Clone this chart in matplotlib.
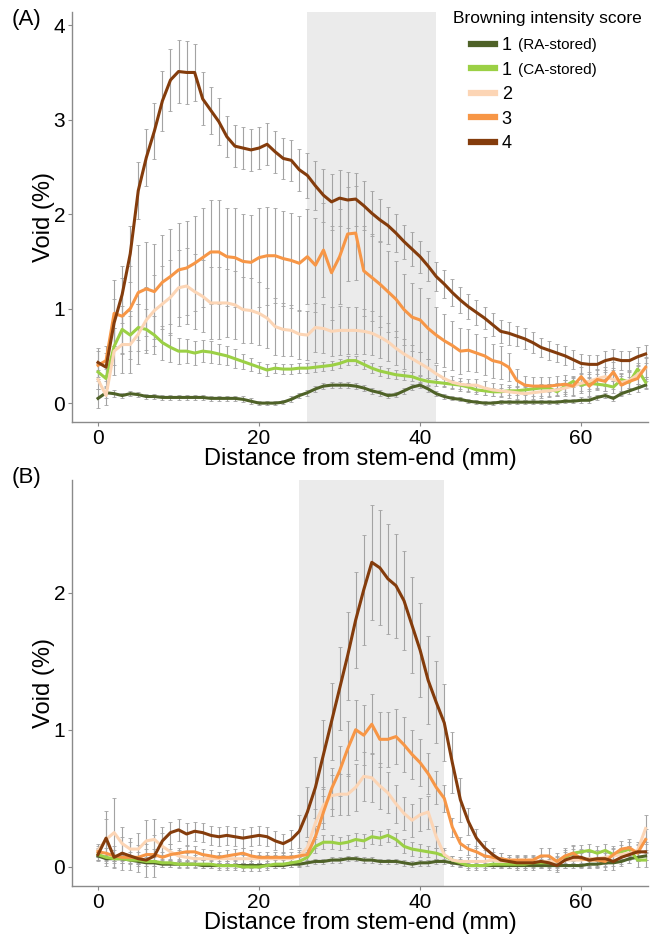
import matplotlib
matplotlib.use("Agg")
import matplotlib.pyplot as plt
import numpy as np

plt.rcParams['font.family'] = ['Liberation Sans', 'DejaVu Sans']

distance = list(range(0, 69))

labels = ["1", "1", "2", "3", "4"]
label_notes = ["(RA-stored)", "(CA-stored)", "", "", ""]
colors = ["#4F6228", "#9BD045", "#FCD5B5", "#F79646", "#843C0C"]

# ---------------- Panel A ----------------
a_ra = [0.05, 0.11, 0.10, 0.08, 0.10, 0.09, 0.07, 0.07, 0.06, 0.06, 0.06, 0.06, 0.06, 0.06, 0.05, 0.05, 0.05, 0.05, 0.04, 0.02,
        0.00, 0.00, 0.00, 0.01, 0.04, 0.08, 0.11, 0.15, 0.18, 0.19, 0.19, 0.19, 0.18, 0.16, 0.13, 0.11, 0.08, 0.09, 0.13, 0.17,
        0.19, 0.15, 0.10, 0.07, 0.05, 0.04, 0.02, 0.01, 0.00, 0.00, 0.01, 0.01, 0.01, 0.01, 0.01, 0.01, 0.01, 0.01, 0.02, 0.02,
        0.03, 0.03, 0.06, 0.08, 0.05, 0.10, 0.13, 0.16, 0.19]
a_ca = [0.33, 0.26, 0.60, 0.78, 0.72, 0.80, 0.78, 0.72, 0.64, 0.59, 0.55, 0.55, 0.53, 0.55, 0.54, 0.52, 0.50, 0.47, 0.44, 0.41,
        0.38, 0.35, 0.37, 0.36, 0.36, 0.37, 0.37, 0.38, 0.39, 0.40, 0.42, 0.45, 0.45, 0.41, 0.37, 0.34, 0.32, 0.30, 0.29, 0.28,
        0.25, 0.23, 0.22, 0.21, 0.20, 0.19, 0.17, 0.14, 0.13, 0.12, 0.12, 0.13, 0.13, 0.14, 0.15, 0.16, 0.16, 0.12, 0.18, 0.23,
        0.19, 0.21, 0.20, 0.19, 0.17, 0.25, 0.22, 0.36, 0.22]
a_s2 = [0.25, 0.08, 0.55, 0.62, 0.62, 0.73, 0.88, 0.98, 1.05, 1.12, 1.22, 1.24, 1.18, 1.13, 1.06, 1.06, 1.06, 1.04, 0.99, 0.98,
        0.95, 0.90, 0.81, 0.78, 0.77, 0.73, 0.72, 0.80, 0.79, 0.76, 0.77, 0.77, 0.77, 0.76, 0.74, 0.70, 0.65, 0.58, 0.52, 0.47,
        0.42, 0.37, 0.31, 0.26, 0.22, 0.20, 0.19, 0.19, 0.16, 0.14, 0.13, 0.12, 0.11, 0.10, 0.11, 0.12, 0.13, 0.14, 0.16, 0.18,
        0.21, 0.23, 0.26, 0.28, 0.25, 0.22, 0.24, 0.30, 0.37]
a_s3 = [0.40, 0.45, 0.95, 0.92, 1.00, 1.17, 1.21, 1.18, 1.28, 1.34, 1.41, 1.43, 1.48, 1.54, 1.60, 1.60, 1.55, 1.54, 1.50, 1.49,
        1.54, 1.56, 1.56, 1.53, 1.51, 1.48, 1.55, 1.46, 1.62, 1.38, 1.55, 1.79, 1.80, 1.40, 1.33, 1.26, 1.18, 1.10, 0.99, 0.91,
        0.88, 0.79, 0.72, 0.66, 0.61, 0.55, 0.56, 0.53, 0.50, 0.45, 0.43, 0.38, 0.24, 0.19, 0.18, 0.18, 0.18, 0.19, 0.20, 0.18,
        0.28, 0.18, 0.25, 0.23, 0.33, 0.19, 0.23, 0.26, 0.38]
a_s4 = [0.43, 0.38, 0.85, 1.15, 1.58, 2.25, 2.60, 2.88, 3.20, 3.42, 3.51, 3.50, 3.50, 3.22, 3.10, 2.98, 2.82, 2.72, 2.70, 2.68,
        2.70, 2.74, 2.66, 2.59, 2.57, 2.47, 2.41, 2.30, 2.20, 2.13, 2.17, 2.15, 2.16, 2.09, 2.01, 1.94, 1.88, 1.80, 1.71, 1.63,
        1.55, 1.45, 1.34, 1.26, 1.17, 1.09, 1.02, 0.96, 0.90, 0.83, 0.76, 0.74, 0.71, 0.68, 0.64, 0.59, 0.56, 0.53, 0.50, 0.46,
        0.42, 0.41, 0.41, 0.45, 0.47, 0.45, 0.45, 0.49, 0.52]

a_ra_err = [0.10, 0.06, 0.04, 0.03, 0.03, 0.03, 0.03, 0.03, 0.03, 0.03, 0.03, 0.03, 0.03, 0.03, 0.03, 0.03, 0.03, 0.03, 0.03, 0.03,
            0.02, 0.02, 0.02, 0.02, 0.03, 0.03, 0.03, 0.03, 0.03, 0.03, 0.03, 0.03, 0.03, 0.03, 0.03, 0.03, 0.03, 0.03, 0.03, 0.03,
            0.03, 0.03, 0.03, 0.03, 0.02, 0.02, 0.02, 0.02, 0.02, 0.02, 0.02, 0.02, 0.02, 0.02, 0.02, 0.02, 0.02, 0.02, 0.02, 0.02,
            0.03, 0.03, 0.03, 0.03, 0.03, 0.03, 0.03, 0.04, 0.04]
a_ca_err = [0.10, 0.10, 0.20, 0.25, 0.25, 0.25, 0.22, 0.20, 0.18, 0.15, 0.14, 0.13, 0.13, 0.12, 0.12, 0.11, 0.10, 0.10, 0.08, 0.07,
            0.06, 0.06, 0.05, 0.05, 0.05, 0.05, 0.05, 0.05, 0.05, 0.05, 0.05, 0.05, 0.05, 0.05, 0.05, 0.05, 0.05, 0.05, 0.05, 0.05,
            0.04, 0.04, 0.04, 0.04, 0.04, 0.04, 0.04, 0.04, 0.04, 0.04, 0.04, 0.04, 0.04, 0.04, 0.04, 0.04, 0.04, 0.04, 0.06, 0.06,
            0.06, 0.06, 0.06, 0.06, 0.06, 0.06, 0.06, 0.06, 0.06]
a_s2_err = [0.10, 0.10, 0.25, 0.30, 0.30, 0.32, 0.35, 0.38, 0.40, 0.40, 0.40, 0.40, 0.40, 0.38, 0.38, 0.38, 0.36, 0.36, 0.35, 0.34,
            0.33, 0.32, 0.30, 0.28, 0.27, 0.26, 0.26, 0.26, 0.26, 0.26, 0.26, 0.25, 0.25, 0.24, 0.23, 0.22, 0.20, 0.18, 0.16, 0.14,
            0.12, 0.10, 0.09, 0.08, 0.07, 0.07, 0.07, 0.07, 0.07, 0.07, 0.07, 0.07, 0.07, 0.07, 0.07, 0.07, 0.07, 0.07, 0.08, 0.09,
            0.10, 0.10, 0.10, 0.10, 0.10, 0.10, 0.10, 0.10, 0.12]
a_s3_err = [0.15, 0.15, 0.35, 0.40, 0.45, 0.50, 0.50, 0.50, 0.50, 0.50, 0.50, 0.50, 0.50, 0.52, 0.55, 0.55, 0.52, 0.52, 0.50, 0.50,
            0.52, 0.52, 0.50, 0.50, 0.50, 0.50, 0.50, 0.50, 0.50, 0.50, 0.50, 0.50, 0.50, 0.48, 0.46, 0.45, 0.43, 0.40, 0.38, 0.36,
            0.34, 0.32, 0.30, 0.28, 0.26, 0.24, 0.22, 0.20, 0.20, 0.18, 0.17, 0.15, 0.12, 0.10, 0.10, 0.10, 0.10, 0.10, 0.10, 0.10,
            0.10, 0.10, 0.10, 0.10, 0.10, 0.10, 0.10, 0.10, 0.10]
a_s4_err = [0.15, 0.15, 0.25, 0.30, 0.30, 0.30, 0.30, 0.30, 0.32, 0.33, 0.33, 0.33, 0.30, 0.28, 0.25, 0.25, 0.22, 0.22, 0.22, 0.22,
            0.22, 0.22, 0.22, 0.22, 0.22, 0.22, 0.24, 0.26, 0.28, 0.30, 0.30, 0.30, 0.28, 0.26, 0.24, 0.22, 0.20, 0.20, 0.18, 0.18,
            0.17, 0.16, 0.15, 0.15, 0.14, 0.14, 0.13, 0.13, 0.12, 0.12, 0.12, 0.12, 0.11, 0.11, 0.11, 0.10, 0.10, 0.10, 0.10, 0.10,
            0.10, 0.10, 0.10, 0.10, 0.10, 0.10, 0.10, 0.10, 0.10]

# ---------------- Panel B ----------------
b_ra = [0.08, 0.06, 0.06, 0.06, 0.05, 0.04, 0.03, 0.03, 0.02, 0.02, 0.02, 0.02, 0.02, 0.01, 0.01, 0.01, 0.01, 0.01, 0.01, 0.01,
        0.01, 0.01, 0.01, 0.01, 0.02, 0.02, 0.03, 0.04, 0.04, 0.05, 0.05, 0.06, 0.06, 0.05, 0.05, 0.04, 0.04, 0.04, 0.03, 0.02,
        0.03, 0.03, 0.04, 0.04, 0.03, 0.02, 0.01, 0.01, 0.01, 0.01, 0.01, 0.01, 0.01, 0.01, 0.01, 0.01, 0.01, 0.01, 0.01, 0.01,
        0.01, 0.02, 0.02, 0.03, 0.03, 0.04, 0.06, 0.07, 0.08]
b_ca = [0.09, 0.07, 0.06, 0.06, 0.05, 0.05, 0.04, 0.04, 0.03, 0.03, 0.02, 0.02, 0.02, 0.02, 0.02, 0.01, 0.01, 0.01, 0.00, 0.00,
        0.00, 0.01, 0.02, 0.02, 0.03, 0.04, 0.07, 0.15, 0.18, 0.18, 0.17, 0.18, 0.20, 0.19, 0.22, 0.21, 0.23, 0.20, 0.15, 0.13,
        0.12, 0.11, 0.10, 0.08, 0.05, 0.03, 0.01, 0.01, 0.01, 0.02, 0.02, 0.02, 0.02, 0.02, 0.03, 0.03, 0.03, 0.04, 0.07, 0.10,
        0.11, 0.12, 0.10, 0.12, 0.09, 0.11, 0.13, 0.05, 0.05]
b_s2 = [0.12, 0.20, 0.25, 0.17, 0.13, 0.13, 0.19, 0.20, 0.15, 0.11, 0.08, 0.07, 0.06, 0.06, 0.06, 0.06, 0.06, 0.06, 0.06, 0.06,
        0.06, 0.06, 0.06, 0.06, 0.06, 0.08, 0.14, 0.32, 0.45, 0.52, 0.53, 0.53, 0.58, 0.66, 0.65, 0.59, 0.54, 0.46, 0.39, 0.34,
        0.38, 0.40, 0.22, 0.09, 0.05, 0.04, 0.04, 0.04, 0.04, 0.05, 0.04, 0.04, 0.04, 0.04, 0.04, 0.04, 0.04, 0.04, 0.05, 0.05,
        0.05, 0.06, 0.06, 0.07, 0.08, 0.09, 0.10, 0.12, 0.28]
b_s3 = [0.11, 0.10, 0.08, 0.07, 0.07, 0.07, 0.09, 0.09, 0.07, 0.09, 0.10, 0.11, 0.11, 0.09, 0.08, 0.07, 0.08, 0.09, 0.10, 0.08,
        0.07, 0.07, 0.07, 0.07, 0.07, 0.08, 0.09, 0.22, 0.40, 0.57, 0.70, 0.86, 1.00, 0.96, 1.04, 0.93, 0.93, 0.95, 0.89, 0.82,
        0.76, 0.68, 0.58, 0.50, 0.29, 0.17, 0.13, 0.11, 0.08, 0.07, 0.06, 0.05, 0.05, 0.05, 0.05, 0.08, 0.08, 0.04, 0.08, 0.10,
        0.06, 0.05, 0.05, 0.04, 0.09, 0.13, 0.14, 0.10, 0.20]
b_s4 = [0.09, 0.21, 0.07, 0.10, 0.08, 0.06, 0.05, 0.08, 0.19, 0.25, 0.27, 0.24, 0.26, 0.25, 0.23, 0.22, 0.23, 0.22, 0.21, 0.22,
        0.23, 0.22, 0.19, 0.17, 0.20, 0.26, 0.40, 0.58, 0.82, 1.06, 1.30, 1.54, 1.80, 2.02, 2.22, 2.18, 2.10, 2.05, 1.94, 1.76,
        1.58, 1.36, 1.20, 1.05, 0.76, 0.49, 0.33, 0.21, 0.14, 0.09, 0.05, 0.04, 0.03, 0.03, 0.03, 0.04, 0.03, 0.01, 0.05, 0.07,
        0.07, 0.05, 0.06, 0.06, 0.04, 0.07, 0.09, 0.11, 0.11]

b_ra_err = [0.03, 0.03, 0.02, 0.02, 0.02, 0.02, 0.02, 0.02, 0.02, 0.02, 0.02, 0.02, 0.02, 0.02, 0.02, 0.02, 0.02, 0.02, 0.02, 0.02,
            0.02, 0.02, 0.02, 0.02, 0.02, 0.02, 0.02, 0.02, 0.02, 0.02, 0.02, 0.02, 0.02, 0.02, 0.02, 0.02, 0.02, 0.02, 0.02, 0.02,
            0.02, 0.02, 0.02, 0.02, 0.02, 0.02, 0.02, 0.02, 0.02, 0.02, 0.02, 0.02, 0.02, 0.02, 0.02, 0.02, 0.02, 0.02, 0.02, 0.02,
            0.02, 0.02, 0.02, 0.02, 0.02, 0.02, 0.03, 0.03, 0.03]
b_ca_err = [0.04, 0.03, 0.03, 0.03, 0.03, 0.03, 0.03, 0.03, 0.03, 0.03, 0.03, 0.03, 0.03, 0.03, 0.03, 0.03, 0.03, 0.03, 0.03, 0.03,
            0.03, 0.03, 0.03, 0.03, 0.03, 0.03, 0.04, 0.05, 0.05, 0.05, 0.05, 0.05, 0.05, 0.05, 0.05, 0.05, 0.05, 0.05, 0.05, 0.05,
            0.05, 0.04, 0.04, 0.04, 0.03, 0.03, 0.03, 0.03, 0.03, 0.03, 0.03, 0.03, 0.03, 0.03, 0.03, 0.03, 0.03, 0.04, 0.05, 0.05,
            0.05, 0.05, 0.05, 0.05, 0.05, 0.05, 0.05, 0.05, 0.05]
b_s2_err = [0.05, 0.15, 0.25, 0.12, 0.08, 0.12, 0.15, 0.15, 0.10, 0.06, 0.04, 0.03, 0.03, 0.03, 0.03, 0.03, 0.03, 0.03, 0.03, 0.03,
            0.03, 0.03, 0.03, 0.03, 0.03, 0.03, 0.05, 0.10, 0.13, 0.15, 0.15, 0.15, 0.17, 0.18, 0.18, 0.17, 0.15, 0.14, 0.12, 0.12,
            0.12, 0.12, 0.08, 0.05, 0.03, 0.03, 0.03, 0.03, 0.03, 0.03, 0.03, 0.03, 0.03, 0.03, 0.03, 0.03, 0.03, 0.03, 0.04, 0.04,
            0.05, 0.05, 0.05, 0.05, 0.05, 0.05, 0.05, 0.06, 0.10]
b_s3_err = [0.04, 0.04, 0.04, 0.04, 0.04, 0.04, 0.04, 0.04, 0.04, 0.04, 0.04, 0.04, 0.04, 0.04, 0.04, 0.04, 0.04, 0.04, 0.04, 0.04,
            0.04, 0.04, 0.04, 0.04, 0.04, 0.04, 0.05, 0.08, 0.12, 0.15, 0.18, 0.20, 0.22, 0.22, 0.22, 0.20, 0.20, 0.20, 0.20, 0.18,
            0.17, 0.15, 0.12, 0.10, 0.07, 0.05, 0.04, 0.04, 0.04, 0.04, 0.04, 0.04, 0.04, 0.04, 0.04, 0.06, 0.06, 0.06, 0.06, 0.06,
            0.06, 0.06, 0.06, 0.06, 0.06, 0.06, 0.06, 0.06, 0.08]
b_s4_err = [0.05, 0.20, 0.08, 0.12, 0.10, 0.10, 0.12, 0.15, 0.10, 0.08, 0.08, 0.08, 0.07, 0.07, 0.07, 0.07, 0.07, 0.07, 0.07, 0.07,
            0.07, 0.07, 0.07, 0.07, 0.07, 0.12, 0.18, 0.22, 0.25, 0.28, 0.30, 0.32, 0.35, 0.40, 0.42, 0.42, 0.40, 0.38, 0.36, 0.35,
            0.34, 0.32, 0.30, 0.28, 0.22, 0.16, 0.10, 0.07, 0.05, 0.05, 0.05, 0.05, 0.05, 0.05, 0.05, 0.05, 0.05, 0.05, 0.06, 0.06,
            0.06, 0.06, 0.06, 0.06, 0.06, 0.06, 0.06, 0.06, 0.06]

panel_a = [a_ra, a_ca, a_s2, a_s3, a_s4]
panel_a_err = [a_ra_err, a_ca_err, a_s2_err, a_s3_err, a_s4_err]
panel_b = [b_ra, b_ca, b_s2, b_s3, b_s4]
panel_b_err = [b_ra_err, b_ca_err, b_s2_err, b_s3_err, b_s4_err]

shade_a = (26, 42)
shade_b = (25, 43)

fig = plt.figure(figsize=(6.5, 9.34), dpi=100)
W, H = 650, 934
def ax_rect(l, t, r, b):
    return [l / W, 1 - b / H, (r - l) / W, (b - t) / H]

axA = fig.add_axes(ax_rect(72, 12, 648, 422))
axB = fig.add_axes(ax_rect(72, 480, 648, 886))

spine_col = "#8a8a8a"

def draw(ax, series, errs, shade, ylim, yticks):
    ax.axvspan(shade[0], shade[1], color="#EBEBEB", zorder=0, lw=0)
    x = np.array(distance)
    for s, e in zip(series, errs):
        ax.errorbar(x, s, yerr=e, fmt='none', ecolor="#a3a3a3", elinewidth=0.8,
                    capsize=1.3, capthick=0.6, zorder=2)
    lines = []
    for s, c, lab in zip(series, colors, labels):
        ln, = ax.plot(x, s, color=c, lw=2.2, zorder=3, label=lab, solid_joinstyle='round')
        lines.append(ln)
    ax.set_xlim(-3.23, 68.3)
    ax.set_ylim(*ylim)
    ax.set_xticks([0, 20, 40, 60])
    ax.set_yticks(yticks)
    for sp in ["top", "right"]:
        ax.spines[sp].set_visible(False)
    for sp in ["left", "bottom"]:
        ax.spines[sp].set_color(spine_col)
        ax.spines[sp].set_linewidth(1.0)
    ax.tick_params(axis='both', colors=spine_col, labelcolor="black", labelsize=15,
                   length=3, width=0.8, pad=2)
    ax.set_xlabel("Distance from stem-end (mm)", fontsize=17, labelpad=0)
    ax.set_ylabel("Void (%)", fontsize=17, labelpad=-1)
    return lines

linesA = draw(axA, panel_a, panel_a_err, shade_a, (-0.2, 4.14), [0, 1, 2, 3, 4])
draw(axB, panel_b, panel_b_err, shade_b, (-0.139, 2.82), [0, 1, 2])

fig.text(453 / W, 1 - 19 / H, "Browning intensity score", fontsize=12.5, va="center", ha="left")
leg = fig.legend(handles=linesA, labels=labels, loc="upper left",
                 bbox_to_anchor=(471 / W, 1 - 37 / H), frameon=False, fontsize=13,
                 handlelength=1.35, handletextpad=0.35,
                 labelspacing=0.42, borderaxespad=0.0, borderpad=0.0)
for ln in leg.get_lines():
    ln.set_linewidth(4.5)

fig.canvas.draw()
renderer = fig.canvas.get_renderer()
inv = fig.transFigure.inverted()
for t, note in zip(leg.get_texts(), label_notes):
    if note:
        bb = t.get_window_extent(renderer)
        x0, y0 = inv.transform((bb.x1 + 6, (bb.y0 + bb.y1) / 2))
        fig.text(x0, y0, note, fontsize=11, va="center", ha="left")

fig.text(12 / W, 1 - 20 / H, "(A)", fontsize=16, va="center", ha="left")
fig.text(12 / W, 1 - 478 / H, "(B)", fontsize=16, va="center", ha="left")

fig.savefig("out.png", dpi=100)
